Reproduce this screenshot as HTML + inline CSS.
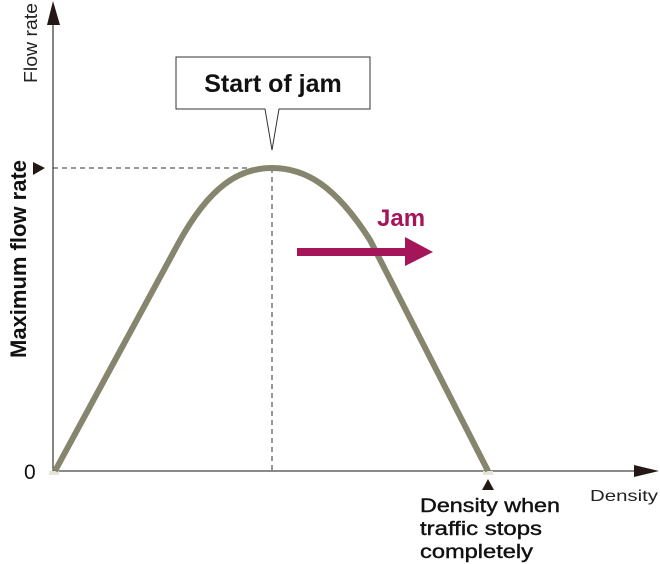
<!DOCTYPE html>
<html><head><style>
html,body{margin:0;padding:0;background:#fff;}
svg{display:block;}
text{font-family:"Liberation Sans",sans-serif;}
</style></head><body>
<svg width="660" height="564" viewBox="0 0 660 564" xmlns="http://www.w3.org/2000/svg">
<line x1="53" y1="20" x2="53" y2="471" stroke="#444" stroke-width="1.3"/>
<polygon points="53,1 47,25 60,25" fill="#231815"/>
<line x1="53" y1="471" x2="640" y2="471" stroke="#444" stroke-width="1.3"/>
<polygon points="659,471 634,465 634,477" fill="#231815"/>
<rect x="49" y="471" width="10" height="4" fill="#e8e4da"/>
<rect x="483" y="471" width="10" height="4" fill="#e8e4da"/>
<line x1="53" y1="168" x2="272" y2="168" stroke="#333" stroke-width="1" stroke-dasharray="5,4"/>
<line x1="272" y1="168" x2="272" y2="471" stroke="#333" stroke-width="1" stroke-dasharray="5,4"/>
<path d="M55,471 L178,244 C210,185 240,168 272,168 C305,168 335,185 370,240 L488,471" fill="none" stroke="#86866f" stroke-width="6" stroke-linejoin="round"/>
<path d="M176,57 H370 V109 H279 L272,150 L265,109 H176 Z" fill="#fff" stroke="#333" stroke-width="1"/>
<text x="273" y="92" font-size="25" font-weight="bold" text-anchor="middle" fill="#111">Start of jam</text>
<polygon points="45,168 33,162 33,175" fill="#231815"/>
<text transform="translate(26,358) rotate(-90)" font-size="22" font-weight="bold" fill="#111" textLength="198" lengthAdjust="spacingAndGlyphs">Maximum flow rate</text>
<text transform="translate(37,83) rotate(-90)" font-size="18" fill="#222" textLength="80" lengthAdjust="spacingAndGlyphs">Flow rate</text>
<text x="24" y="479" font-size="21" fill="#111">0</text>
<line x1="297" y1="252" x2="408" y2="252" stroke="#a5155a" stroke-width="8"/>
<polygon points="405,237 433,252 405,266" fill="#a5155a"/>
<text x="377" y="226" font-size="24" font-weight="bold" fill="#a5155a">Jam</text>
<polygon points="488,479 482,490 494,490" fill="#231815"/>
<text font-size="19" fill="#111" stroke="#111" stroke-width="0.4"><tspan x="420" y="512" textLength="140" lengthAdjust="spacingAndGlyphs">Density when</tspan><tspan x="420" y="535" textLength="122" lengthAdjust="spacingAndGlyphs">traffic stops</tspan><tspan x="420" y="558" textLength="113" lengthAdjust="spacingAndGlyphs">completely</tspan></text>
<text x="590" y="501" font-size="16" fill="#222" textLength="68" lengthAdjust="spacingAndGlyphs">Density</text>
</svg>
</body></html>
